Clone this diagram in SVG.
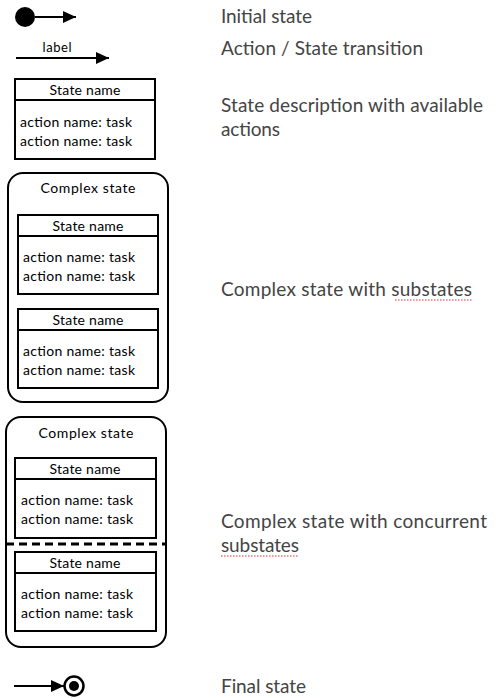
<svg xmlns="http://www.w3.org/2000/svg" width="496" height="698" viewBox="0 0 496 698">
<style>
.box{fill:#fff;stroke:#000;stroke-width:2}
.ln{stroke:#000;stroke-width:2;fill:none}
.t{font-family:"Lato","Open Sans",sans-serif;font-size:14px;fill:#000}
.c{text-anchor:middle}
.d{font-family:"Lato","Open Sans",sans-serif;font-size:19px;fill:#444}
.sp{stroke:#e03030;stroke-width:1;stroke-dasharray:1.5 1.5;fill:none}
</style>
<defs>
<marker id="ah" markerWidth="13" markerHeight="12" refX="13" refY="6" orient="auto" markerUnits="userSpaceOnUse">
<path d="M0,0 L13,6 L0,12 Z" fill="#000"/>
</marker>
</defs>
<rect width="496" height="698" fill="#fff"/>

<g id="initial">
<circle cx="25" cy="17" r="10" fill="#000"/>
</g>

<g id="state-legend">
<rect class="box" x="15" y="79" width="140" height="80"/>
<line class="ln" x1="15" y1="100" x2="155" y2="100"/>
<text class="t c" x="85" y="95" textLength="71">State name</text>
<text class="t" x="20" y="127" textLength="112">action name: task</text>
<text class="t" x="20" y="146" textLength="112">action name: task</text>
</g>

<g id="complex-state">
<rect class="box" x="8" y="173" width="160" height="229" rx="15"/>
<text class="t c" x="88" y="193" textLength="95">Complex state</text>
<g id="substate-1">
<rect class="box" x="18" y="215" width="140" height="79"/>
<line class="ln" x1="18" y1="236" x2="158" y2="236"/>
<text class="t c" x="88" y="231" textLength="71">State name</text>
<text class="t" x="23" y="262" textLength="112">action name: task</text>
<text class="t" x="23" y="281" textLength="112">action name: task</text>
</g>
<g id="substate-2">
<rect class="box" x="18" y="309" width="140" height="79"/>
<line class="ln" x1="18" y1="330" x2="158" y2="330"/>
<text class="t c" x="88" y="325" textLength="71">State name</text>
<text class="t" x="23" y="356" textLength="112">action name: task</text>
<text class="t" x="23" y="375" textLength="112">action name: task</text>
</g>
</g>

<g id="concurrent-state">
<rect class="box" x="6" y="417" width="160" height="230" rx="15"/>
<text class="t c" x="86" y="438" textLength="95">Complex state</text>
<g id="conc-substate-1">
<rect class="box" x="15" y="458" width="141" height="80"/>
<line class="ln" x1="15" y1="479" x2="156" y2="479"/>
<text class="t c" x="85" y="474" textLength="71">State name</text>
<text class="t" x="21" y="505" textLength="112">action name: task</text>
<text class="t" x="21" y="524" textLength="112">action name: task</text>
</g>
<g id="conc-substate-2">
<rect class="box" x="15" y="552" width="141" height="79"/>
<line class="ln" x1="15" y1="573" x2="156" y2="573"/>
<text class="t c" x="85" y="568" textLength="71">State name</text>
<text class="t" x="21" y="599" textLength="112">action name: task</text>
<text class="t" x="21" y="618" textLength="112">action name: task</text>
</g>
</g>

<g id="final">
<circle cx="74" cy="686" r="9.5" fill="#fff" stroke="#000" stroke-width="2.5"/>
<circle cx="74" cy="686" r="5" fill="#000"/>
</g>

<g id="connectors">
<line class="ln" x1="35" y1="17" x2="76" y2="17" marker-end="url(#ah)"/>
<line class="ln" x1="16" y1="58" x2="109" y2="58" marker-end="url(#ah)"/>
<text class="t c" x="57" y="52" style="font-size:13px" textLength="29">label</text>
<line x1="6" y1="544" x2="166" y2="544" stroke="#000" stroke-width="3" stroke-dasharray="8 5"/>
<line class="ln" x1="14" y1="686" x2="64" y2="686" marker-end="url(#ah)"/>
</g>

<g id="descriptions">
<text class="d" x="221" y="23" textLength="91">Initial state</text>
<text class="d" x="221" y="55" textLength="202">Action / State transition</text>
<text class="d" x="221" y="112" textLength="262">State description with available</text>
<text class="d" x="221" y="136" textLength="59">actions</text>
<text class="d" x="221" y="296" textLength="251">Complex state with substates</text>
<path class="sp" d="M395,300 L472,300"/>
<text class="d" x="221" y="528" textLength="266">Complex state with concurrent</text>
<text class="d" x="221" y="552" textLength="78">substates</text>
<path class="sp" d="M221,556 L299,556"/>
<text class="d" x="221" y="693" textLength="85">Final state</text>
</g>
</svg>
